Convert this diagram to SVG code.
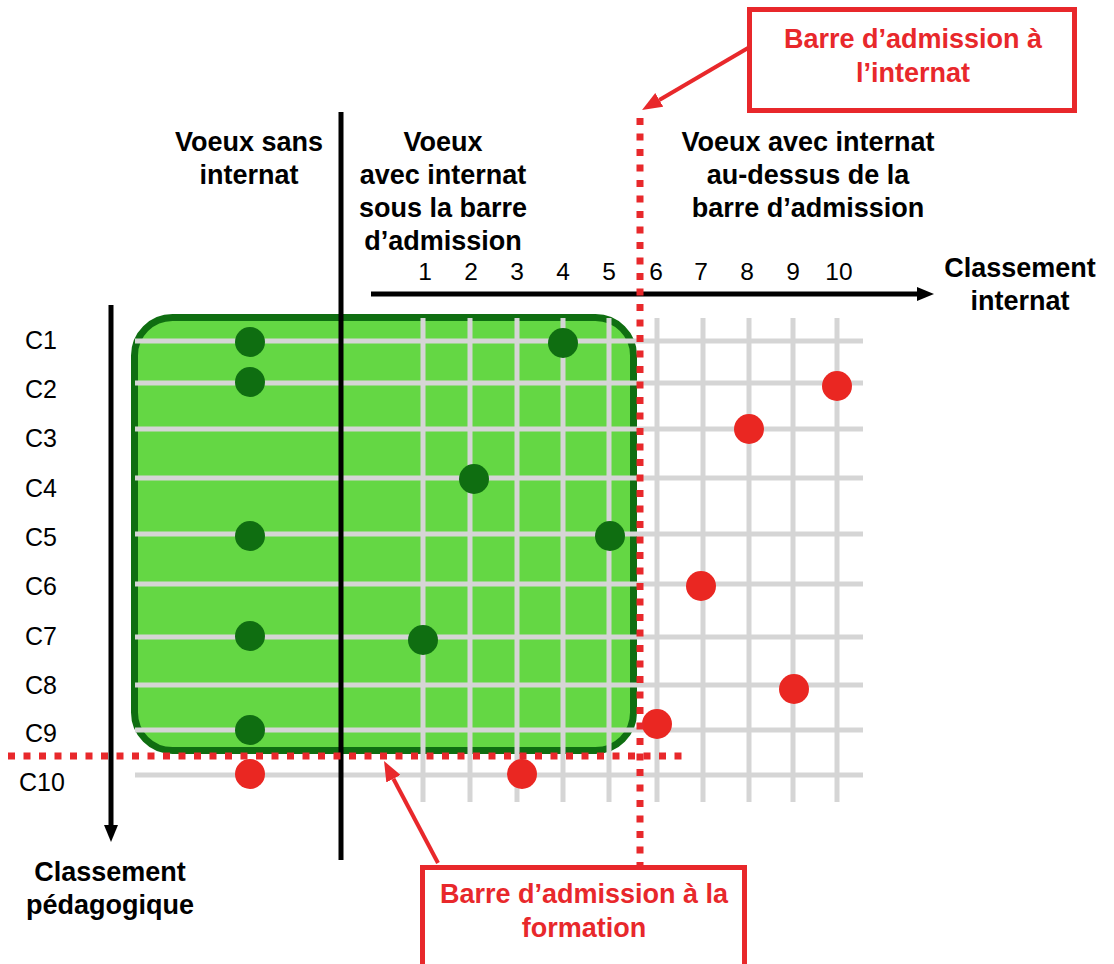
<svg xmlns="http://www.w3.org/2000/svg" width="1114" height="964" viewBox="0 0 1114 964">
<style>
text{font-family:"Liberation Sans",Arial,Helvetica,sans-serif}
.h{font-size:27px;font-weight:bold;fill:#000;text-anchor:middle}
.r{font-size:27px;font-weight:bold;fill:#e8282b;text-anchor:middle}
.c{font-size:25px;fill:#000}
.n{font-size:24.5px;fill:#000;text-anchor:middle}
.g{stroke:#d5d5d5;stroke-width:5;fill:none}
.dg{fill:#0f6e11}
.rd{fill:#ea2722}
.blk{stroke:#000;stroke-width:5;fill:none}
.dot{stroke:#e8282b;stroke-width:7;fill:none;stroke-dasharray:7 8.5}
.box{fill:#fff;stroke:#e8282b;stroke-width:5}
.ra{stroke:#e8282b;stroke-width:4;fill:none}
</style>
<defs>
<marker id="ab" markerUnits="userSpaceOnUse" markerWidth="18" markerHeight="14" refX="0" refY="7" orient="auto"><path d="M0,0 L17,7 L0,14 z" fill="#000"/></marker>
<marker id="ar" markerUnits="userSpaceOnUse" markerWidth="21" markerHeight="16" refX="0" refY="8" orient="auto"><path d="M0,0 L20,8 L0,16 z" fill="#e8282b"/></marker>
</defs>
<rect width="1114" height="964" fill="#fff"/>

<g id="zone-admis">
<rect x="134.5" y="317.5" width="499" height="433" rx="38" ry="38" fill="#64d744" stroke="#0f6e11" stroke-width="7"/>
</g>

<g id="grille">
<path class="g" d="M135,341H863M135,383H863M135,429H863M135,478H863M135,534H863M135,584H863M135,637H863M135,685H863M135,730H863M135,775H863"/>
<path class="g" d="M423,318V802M470,318V802M517,318V802M563,318V802M609,318V802M657,318V802M703,318V802M749,318V802M793,318V802M837,318V802"/>
</g>

<g id="voeux">
<circle class="dg" cx="250" cy="342" r="15"/>
<circle class="dg" cx="563" cy="343" r="15"/>
<circle class="dg" cx="250" cy="382" r="15"/>
<circle class="rd" cx="837" cy="386" r="15"/>
<circle class="rd" cx="749" cy="429" r="15"/>
<circle class="dg" cx="474" cy="479" r="15"/>
<circle class="dg" cx="250" cy="536" r="15"/>
<circle class="dg" cx="610" cy="536" r="15"/>
<circle class="rd" cx="701" cy="586" r="15"/>
<circle class="dg" cx="250" cy="636" r="15"/>
<circle class="dg" cx="423" cy="640" r="15"/>
<circle class="rd" cx="794" cy="689" r="15"/>
<circle class="dg" cx="250" cy="730" r="15"/>
<circle class="rd" cx="657" cy="724" r="15"/>
<circle class="rd" cx="250" cy="774" r="15"/>
<circle class="rd" cx="522" cy="774" r="15"/>
</g>

<g id="connecteurs">
<line class="blk" x1="341" y1="112" x2="341" y2="860"/>
<line class="blk" x1="111" y1="305" x2="111" y2="825" marker-end="url(#ab)"/>
<line class="blk" x1="371" y1="294" x2="917" y2="294" marker-end="url(#ab)"/>
<line class="dot" x1="640" y1="118" x2="640" y2="865"/>
<line class="dot" x1="8" y1="756" x2="686" y2="756"/>
<line class="ra" x1="748" y1="48" x2="659.3" y2="99.9" marker-end="url(#ar)"/>
<line class="ra" x1="438" y1="863" x2="393.4" y2="778.7" marker-end="url(#ar)"/>
</g>

<g id="titres">
<text class="h" x="249" y="151">Voeux sans</text>
<text class="h" x="249" y="184">internat</text>
<text class="h" x="443" y="151">Voeux</text>
<text class="h" x="443" y="184">avec internat</text>
<text class="h" x="443" y="217">sous la barre</text>
<text class="h" x="443" y="250">d’admission</text>
<text class="h" x="808" y="151">Voeux avec internat</text>
<text class="h" x="808" y="184">au-dessus de la</text>
<text class="h" x="808" y="217">barre d’admission</text>
<text class="h" x="1020" y="277">Classement</text>
<text class="h" x="1020" y="310">internat</text>
<text class="h" x="110" y="881">Classement</text>
<text class="h" x="110" y="914">pédagogique</text>
</g>

<g id="numeros">
<text class="n" x="425" y="280">1</text>
<text class="n" x="471" y="280">2</text>
<text class="n" x="517" y="280">3</text>
<text class="n" x="563" y="280">4</text>
<text class="n" x="609" y="280">5</text>
<text class="n" x="656" y="280">6</text>
<text class="n" x="701" y="280">7</text>
<text class="n" x="747" y="280">8</text>
<text class="n" x="793" y="280">9</text>
<text class="n" x="839" y="280">10</text>
</g>

<g id="candidats">
<text class="c" x="25" y="349">C1</text>
<text class="c" x="25" y="398">C2</text>
<text class="c" x="25" y="447">C3</text>
<text class="c" x="25" y="497">C4</text>
<text class="c" x="25" y="546">C5</text>
<text class="c" x="25" y="595">C6</text>
<text class="c" x="25" y="645">C7</text>
<text class="c" x="25" y="694">C8</text>
<text class="c" x="25" y="742">C9</text>
<text class="c" x="19" y="791">C10</text>
</g>

<g id="barre-internat">
<rect class="box" x="749.5" y="9.5" width="325" height="101"/>
<text class="r" x="913" y="48">Barre d’admission à</text>
<text class="r" x="913" y="82">l’internat</text>
</g>

<g id="barre-formation">
<rect class="box" x="422.5" y="867.5" width="322" height="120"/>
<text class="r" x="584" y="903">Barre d’admission à la</text>
<text class="r" x="584" y="937">formation</text>
</g>
</svg>
